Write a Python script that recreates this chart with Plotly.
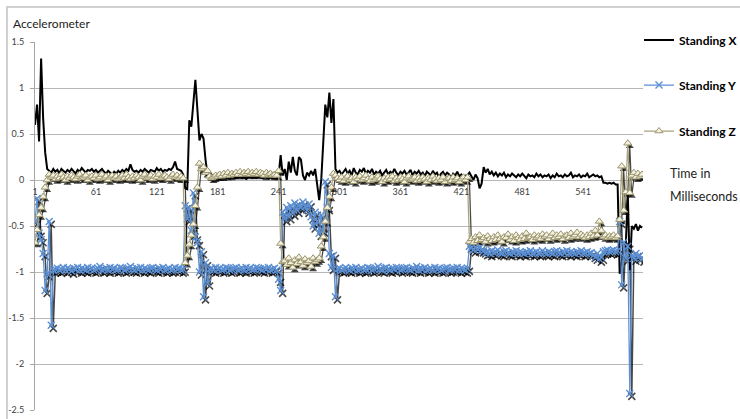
import plotly.graph_objects as go

# sample index (every second sample of ~600)
tick_vals = [1, 61, 121, 181, 241, 301, 361, 421, 481, 541]
tick_text = [str(v) for v in tick_vals]
y_ticks = [1.5, 1, 0.5, 0, -0.5, -1, -1.5, -2, -2.5]

standing_x = (
    [0.6, 0.82, 0.42, 1.32, 0.67, 0.3, 0.12]
    + [0.1, 0.08, 0.12, 0.09, 0.11, 0.07, 0.12, 0.1, 0.08, 0.11,
       0.09, 0.12, 0.1, 0.07, 0.11, 0.09, 0.13, 0.1, 0.08, 0.11,
       0.1, 0.12, 0.09, 0.11, 0.08, 0.1, 0.12, 0.09, 0.07, 0.1,
       0.08, 0.06, 0.09, 0.07, 0.1, 0.08, 0.11, 0.09, 0.12, 0.1,
       0.17, 0.11, 0.09, 0.1, 0.08, 0.11, 0.09, 0.12, 0.1, 0.08,
       0.11, 0.1, 0.09, 0.13, 0.1, 0.12, 0.09, 0.11, 0.1, 0.12]
    + [0.11, 0.14, 0.2, 0.12, 0.11, 0.1]
    + [0.06, -0.09, -0.1, 0.65, 0.58, 0.8, 1.09, 0.76, 0.43, 0.5, 0.45, 0.22, 0.05]
    + [0.03, 0.02, 0.04, 0.02, 0.03, 0.01, 0.03, 0.04, 0.02, 0.03,
       0.02, 0.04, 0.03, 0.02, 0.03, 0.04, 0.02, 0.03, 0.01, 0.03,
       0.04, 0.02, 0.03, 0.02, 0.04, 0.03, 0.02, 0.03, 0.04, 0.02,
       0.03, 0.02, 0.04, 0.03]
    + [0.05, 0.27, 0.05, 0.12, 0.0, 0.2, 0.08, 0.25, 0.1, 0.05,
       0.25, 0.22, 0.05, 0.0, 0.08, 0.05, 0.1, 0.05, 0.12, -0.05,
       -0.22, 0.0, 0.4, 0.82, 0.68, 0.95, 0.62, 0.88, 0.12, 0.08]
    + [0.1, 0.06, 0.09, 0.12, 0.07, 0.1, 0.05, 0.13, 0.08, 0.06,
       0.11, 0.09, 0.13, 0.07, 0.1, 0.08, 0.12, 0.06, 0.09, 0.07,
       0.1, 0.05, 0.08, 0.11, 0.06, 0.09, 0.07, 0.12, 0.08, 0.05,
       0.09, 0.07, 0.1, 0.06, 0.08, 0.11, 0.05, 0.09, 0.07, 0.1,
       0.06, 0.08, 0.04, 0.09, 0.07, 0.05, 0.1, 0.06, 0.08, 0.03,
       0.07, 0.09, 0.05, 0.08, 0.06, 0.02, 0.07, 0.05, 0.09, 0.04,
       0.06, 0.03, 0.05]
    + [0.05, 0.08, 0.03, 0.0, 0.06, 0.02, -0.09]
    + [-0.04, 0.14, 0.08, 0.12, 0.06, 0.09, 0.05, 0.08, 0.04, 0.07,
       0.05, 0.08, 0.03, 0.06, 0.04, 0.07, 0.05, 0.03, 0.06, 0.04,
       0.07, 0.05, 0.02, 0.06, 0.04, 0.05, 0.03, 0.07, 0.04, 0.06,
       0.03, 0.05, 0.04, 0.06, 0.02, 0.05, 0.03, 0.07, 0.04, 0.05,
       0.03, 0.06, 0.04, 0.05, 0.08, 0.03, 0.05, 0.04, 0.06, 0.03,
       0.05, 0.04, 0.07, 0.03, 0.05, 0.06, 0.04, 0.05, 0.03, 0.04]
    + [-0.03, -0.03, -0.04, -0.03, -0.04, -0.03, -0.05, -0.05]
    + [-1.02, -0.9, -0.75, -0.72, -0.15, -0.98, -0.5, -0.53, -0.48, -0.55, -0.5, -0.52]
)

standing_y = (
    [-0.45, -0.2, -0.58, -0.65, -0.8, -1.2, -1.02, -0.45, -1.58, -0.98]
    + [-0.97, -0.96, -0.98, -0.97, -0.95, -0.98, -0.96, -0.97, -0.99, -0.96,
       -0.97, -0.95, -0.98, -0.96, -0.97, -0.98, -0.95, -0.97, -0.96, -0.98,
       -0.97, -0.96, -0.94, -0.98, -0.97, -0.96, -0.98, -0.95, -0.97, -0.96,
       -0.98, -0.97, -0.95, -0.96, -0.98, -0.97, -0.96, -0.94, -0.97, -0.98,
       -0.96, -0.97, -0.95, -0.98, -0.96, -0.97, -0.98, -0.96, -0.95, -0.97,
       -0.98, -0.96, -0.97, -0.95, -0.98, -0.97, -0.96, -0.98, -0.97, -0.95,
       -0.97, -0.96, -0.98, -0.97]
    + [-0.28, -0.42, -0.3, -0.55, -0.14, -0.62, -0.68, -1.0, -0.78, -1.27, -0.9, -1.12]
    + [-0.97, -0.96, -0.98, -0.95, -0.97, -0.96, -0.98, -0.97, -0.95, -0.96,
       -0.98, -0.97, -0.96, -0.95, -0.98, -0.97, -0.96, -0.98, -0.95, -0.97,
       -0.96, -0.98, -0.97, -0.95, -0.96, -0.97, -0.98, -0.96, -0.97, -0.95,
       -0.98, -0.97, -0.96, -0.98]
    + [-1.08, -1.2, -0.35, -0.42, -0.3, -0.4, -0.28, -0.36, -0.25, -0.33,
       -0.27, -0.3, -0.24, -0.29, -0.33, -0.26, -0.4, -0.5, -0.35, -0.45,
       -0.58, -0.38, -0.55, -0.02, -0.3, -0.8, -0.95, -0.82, -1.27, -0.97]
    + [-0.96, -0.98, -0.97, -0.95, -0.97, -0.98, -0.96, -0.97, -0.95, -0.98,
       -0.97, -0.96, -0.98, -0.97, -0.95, -0.96, -0.98, -0.97, -0.96, -0.94,
       -0.97, -0.98, -0.96, -0.95, -0.97, -0.98, -0.96, -0.97, -0.95, -0.96,
       -0.98, -0.97, -0.96, -0.95, -0.97, -0.98, -0.96, -0.97, -0.94, -0.98,
       -0.96, -0.97, -0.95, -0.98, -0.97, -0.96, -0.98, -0.95, -0.97, -0.96,
       -0.98, -0.97, -0.96, -0.95, -0.98, -0.97, -0.96, -0.97, -0.95, -0.98,
       -0.96, -0.97, -0.98, -0.96]
    + [-0.72, -0.74, -0.76, -0.73, -0.75, -0.74, -0.76]
    + [-0.77, -0.79, -0.78, -0.8, -0.77, -0.79, -0.78, -0.76, -0.79, -0.8,
       -0.78, -0.77, -0.79, -0.8, -0.78, -0.79, -0.77, -0.8, -0.78, -0.79,
       -0.8, -0.78, -0.79, -0.77, -0.8, -0.79, -0.78, -0.8, -0.79, -0.77,
       -0.79, -0.8, -0.78, -0.79, -0.8, -0.78, -0.77, -0.79, -0.8, -0.78,
       -0.79, -0.77, -0.8, -0.78, -0.79, -0.8, -0.78, -0.79, -0.77, -0.8,
       -0.79, -0.78, -0.8, -0.79, -0.82, -0.84, -0.8]
    + [-0.86, -0.84, -0.78, -0.77, -0.76, -0.78, -0.77, -0.76, -0.78, -0.77]
    + [-0.45, -1.14, -0.68, -0.85, -0.72, -2.32, -0.82, -0.85, -0.8, -0.84, -0.82, -0.86]
)

standing_z = (
    [-0.68, -0.54, -0.38, -0.3, -0.18, -0.08, 0.0, 0.06]
    + [0.03, 0.05, 0.01, 0.04, 0.02, 0.06, 0.03, 0.0, 0.04, 0.02,
       0.05, 0.03, 0.01, 0.04, 0.06, 0.02, 0.03, 0.05, 0.0, 0.03,
       0.04, 0.02, 0.05, 0.01, 0.03, 0.06, 0.02, 0.04, 0.0, 0.03,
       0.05, 0.02, 0.04, 0.01, 0.03, 0.05, 0.02, 0.06, 0.03, 0.01,
       0.04, 0.02, 0.05, 0.03, 0.0, 0.04, 0.06, 0.02, 0.03, 0.05,
       0.01, 0.04, 0.03, 0.06, 0.02, 0.04, 0.05, 0.03, 0.01, 0.04,
       0.06, 0.03, 0.05, 0.02, 0.04, 0.02]
    + [-0.9, -0.82, -0.7, -0.6, -0.48, -0.28, -0.08, 0.18, 0.12, 0.14, 0.08, 0.1, 0.04, 0.02]
    + [0.03, 0.05, 0.04, 0.06, 0.04, 0.07, 0.05, 0.08, 0.05, 0.07,
       0.06, 0.08, 0.06, 0.09, 0.06, 0.08, 0.07, 0.09, 0.06, 0.08,
       0.07, 0.09, 0.06, 0.08, 0.07, 0.05, 0.08, 0.06, 0.07, 0.05,
       0.06, 0.05]
    + [0.1, -0.69, -0.89]
    + [-0.88, -0.92, -0.85, -0.9, -0.95, -0.87, -0.91, -0.84, -0.89, -0.93,
       -0.86, -0.9, -0.88, -0.94, -0.85, -0.89, -0.87]
    + [-0.85, -0.72, -0.62, -0.45, -0.3, -0.18, -0.08, 0.07, 0.05, 0.02]
    + [0.0, 0.03, -0.01, 0.02, 0.04, 0.0, 0.02, -0.02, 0.03, 0.01,
       0.04, 0.0, 0.02, 0.05, 0.01, -0.01, 0.03, 0.0, 0.02, 0.04,
       0.01, -0.02, 0.02, 0.0, 0.03, 0.01, 0.04, -0.01, 0.02, 0.0,
       0.03, 0.01, -0.02, 0.02, 0.04, 0.0, 0.01, 0.03, -0.01, 0.02,
       0.0, 0.03, 0.01, -0.02, 0.02, 0.0, 0.04, 0.01, -0.01, 0.02,
       0.0, 0.03, -0.02, 0.01, 0.02, -0.01, 0.03, 0.0, 0.02, -0.02,
       0.01, 0.03, 0.0, 0.03]
    + [-0.67, -0.64, -0.68, -0.62, -0.66, -0.6, -0.65, -0.63, -0.67, -0.61,
       -0.64, -0.66, -0.62, -0.65, -0.6, -0.64, -0.67, -0.62, -0.63, -0.59,
       -0.65, -0.62, -0.66, -0.6, -0.63, -0.65, -0.61, -0.64, -0.58, -0.63,
       -0.62, -0.65, -0.6, -0.63, -0.61, -0.64, -0.59, -0.62, -0.6, -0.64,
       -0.61, -0.58, -0.63, -0.6, -0.62, -0.59, -0.64, -0.61, -0.6, -0.63,
       -0.58, -0.62, -0.6, -0.57, -0.62, -0.59, -0.61, -0.63, -0.6, -0.62,
       -0.58, -0.61, -0.55, -0.6]
    + [-0.45, -0.55, -0.62, -0.6, -0.63, -0.61, -0.62, -0.6, -0.63, -0.61]
    + [-0.43, 0.15, -0.33, -0.13, 0.4, -0.14, 0.05, 0.08, 0.03, 0.07, 0.04, 0.06]
)

assert len(standing_x) == 300, len(standing_x)
assert len(standing_y) == 300, len(standing_y)
assert len(standing_z) == 300, len(standing_z)

samples = list(range(1, 2 * len(standing_x), 2))

FONT = "Lato"
W, H = 740, 419
X_DOM = [34 / W, 643 / W]
Y_DOM = [(H - 410) / H, (H - 42) / H]
X_RANGE = [0, 600]
Y_RANGE = [-2.5, 1.5]
SHADOW = "rgba(0,0,0,0.72)"

fig = go.Figure()

# drop shadows (Excel-style), drawn on the base subplot whose axes are offset a few px
fig.add_trace(go.Scatter(
    x=samples, y=standing_y, mode="lines+markers", showlegend=False, hoverinfo="skip",
    line=dict(color=SHADOW, width=1.5),
    marker=dict(symbol="x-thin-open", size=7, line=dict(color=SHADOW, width=1.6)),
    xaxis="x", yaxis="y"))
fig.add_trace(go.Scatter(
    x=samples, y=standing_z, mode="lines+markers", showlegend=False, hoverinfo="skip",
    line=dict(color=SHADOW, width=1.25),
    marker=dict(symbol="triangle-up", size=7, color=SHADOW, line=dict(width=0)),
    xaxis="x", yaxis="y"))

# real series
fig.add_trace(go.Scatter(
    x=samples, y=standing_x, mode="lines", name="Standing X",
    line=dict(color="#000000", width=2), legend="legend", xaxis="x2", yaxis="y2"))
fig.add_trace(go.Scatter(
    x=samples, y=standing_y, mode="lines+markers", name="Standing Y",
    line=dict(color="#5B8FD3", width=1.25),
    marker=dict(symbol="x-thin-open", size=7, line=dict(color="#4F84CC", width=1.4)),
    legend="legend2", xaxis="x2", yaxis="y2"))
fig.add_trace(go.Scatter(
    x=samples, y=standing_z, mode="lines+markers", name="Standing Z",
    line=dict(color="#A8A27C", width=1.25),
    marker=dict(symbol="triangle-up", size=7, color="#F4F1E2",
                line=dict(color="#9A946A", width=1)),
    legend="legend3", xaxis="x2", yaxis="y2"))

dx = 2.0 * (X_RANGE[1] - X_RANGE[0]) / 609
dy = 3.0 * (Y_RANGE[1] - Y_RANGE[0]) / 368

leg_common = dict(xanchor="left", yanchor="middle", bgcolor="rgba(0,0,0,0)",
                  font=dict(family=FONT, size=12, color="#000000", weight="bold"),
                  itemwidth=30)
fig.update_layout(
    width=W, height=H,
    margin=dict(l=0, r=0, t=0, b=0, autoexpand=False),
    paper_bgcolor="white", plot_bgcolor="white",
    legend=dict(x=639 / W, y=(H - 40) / H, **leg_common),
    legend2=dict(x=639 / W, y=(H - 85) / H, **leg_common),
    legend3=dict(x=639 / W, y=(H - 131) / H, **leg_common),
    xaxis=dict(domain=X_DOM, range=[X_RANGE[0] - dx, X_RANGE[1] - dx], visible=False,
               showgrid=False, zeroline=False),
    yaxis=dict(domain=Y_DOM, range=[Y_RANGE[0] + dy, Y_RANGE[1] + dy], visible=False,
               showgrid=False, zeroline=False),
    xaxis2=dict(overlaying="x", domain=X_DOM, range=X_RANGE, anchor="free",
                position=(H - 180) / H, automargin=False,
                tickmode="array", tickvals=tick_vals, ticktext=tick_text,
                showgrid=False, zeroline=False, showline=False, ticks="",
                ticklabelstandoff=5,
                tickfont=dict(family=FONT, size=9, color="#404040")),
    yaxis2=dict(overlaying="y", domain=Y_DOM, range=Y_RANGE, anchor="free",
                position=X_DOM[0], side="left", automargin=False,
                tickmode="array", tickvals=y_ticks,
                ticktext=[str(v) if v != int(v) else str(int(v)) for v in y_ticks],
                showgrid=True, gridcolor="#B7B7B7", gridwidth=1, zeroline=False,
                showline=True, linecolor="#A6A6A6", linewidth=1,
                ticks="outside", ticklen=4, tickcolor="#A6A6A6",
                ticklabelstandoff=4,
                tickfont=dict(family=FONT, size=9, color="#404040")),
    shapes=[dict(type="rect", xref="paper", yref="paper",
                 x0=7 / W, x1=1.05, y0=-0.05, y1=(H - 7) / H,
                 line=dict(color="#D0D0D0", width=2), layer="below")],
    annotations=[
        dict(text="Accelerometer", xref="paper", yref="paper", x=11 / W, y=(H - 23) / H,
             xanchor="left", yanchor="middle", showarrow=False,
             font=dict(family=FONT, size=12, color="#222222")),
        dict(text="Time in", xref="paper", yref="paper", x=668 / W, y=(H - 173) / H,
             xanchor="left", yanchor="middle", showarrow=False,
             font=dict(family=FONT, size=12.5, color="#222222")),
        dict(text="Milliseconds", xref="paper", yref="paper", x=668 / W, y=(H - 196) / H,
             xanchor="left", yanchor="middle", showarrow=False,
             font=dict(family=FONT, size=12.5, color="#222222")),
    ],
    showlegend=True,
)

fig.write_html("out.html")
